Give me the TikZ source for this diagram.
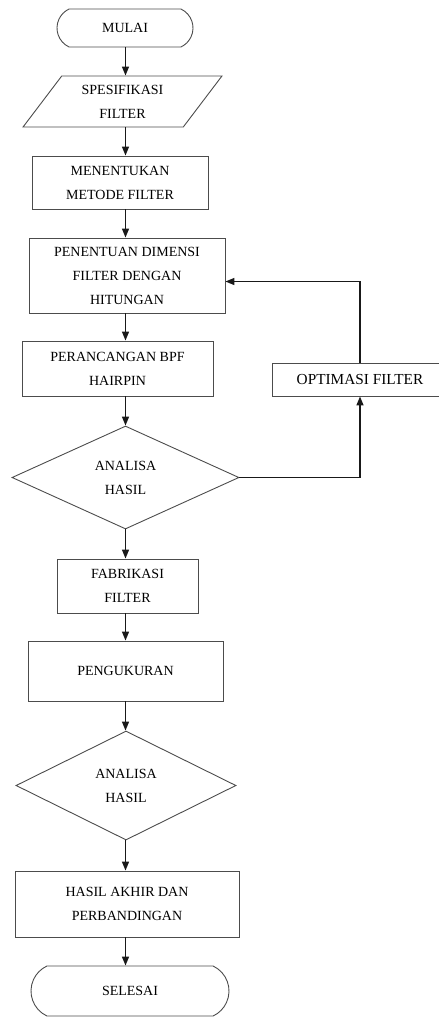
\documentclass[tikz,border=0pt]{standalone}
\usepackage{fontspec}
\setmainfont{Liberation Serif}
\usetikzlibrary{arrows.meta, positioning, shapes.geometric, shapes.misc}

\begin{document}
\begin{tikzpicture}[x=1pt,y=-1pt,on grid,>={Triangle[length=9pt,width=7pt]}]
    \tikzstyle{base}=[draw=black!70, line width=0.9pt, text=black, align=center, inner sep=0pt, font=\fontsize{14}{24}\selectfont]
    \tikzstyle{terminal}=[base, rounded rectangle, rounded rectangle arc length=130]
    \tikzstyle{io}=[base, trapezium, trapezium left angle=52, trapezium right angle=128, trapezium stretches=true]
    \tikzstyle{process}=[base, rectangle]
    \tikzstyle{decision}=[base, diamond, aspect=2.2]
    \tikzstyle{flow}=[->, line width=1.4pt, black!90]

    \useasboundingbox (0,0) rectangle (439,1018);
    \coordinate (spine) at (125.5,0);

    \node[terminal, minimum width=136pt, minimum height=38pt] (mulai) at (125,28) {MULAI};
    \node[io, minimum width=199pt, minimum height=51pt, below=73.5pt of mulai, xshift=-2.5pt] (spek) {SPESIFIKASI\\FILTER};
    \node[process, minimum width=176pt, minimum height=53pt, below=81pt of spek, xshift=-2.5pt] (metode) {MENENTUKAN\\METODE FILTER};
    \node[process, minimum width=196pt, minimum height=75pt, below=93pt of metode, xshift=7pt] (dimensi) {PENENTUAN DIMENSI\\FILTER DENGAN\\HITUNGAN};
    \node[process, minimum width=191pt, minimum height=55pt, below=93pt of dimensi, xshift=-9.5pt] (rancang) {PERANCANGAN BPF\\HAIRPIN};
    \node[decision, minimum width=227pt, minimum height=103pt, below=109pt of rancang, xshift=8pt] (analisa1) {ANALISA\\HASIL};
    \node[process, minimum width=141pt, minimum height=54pt, below=108.5pt of analisa1, xshift=2pt] (fabrikasi) {FABRIKASI\\FILTER};
    \node[process, minimum width=195pt, minimum height=60pt, below=85pt of fabrikasi, xshift=-2pt] (ukur) {PENGUKURAN};
    \node[decision, minimum width=220pt, minimum height=109pt, below=114.5pt of ukur, xshift=0.5pt] (analisa2) {ANALISA\\HASIL};
    \node[process, minimum width=224pt, minimum height=66pt, below=118.5pt of analisa2, xshift=1pt] (akhir) {HASIL AKHIR DAN\\PERBANDINGAN};
    \node[terminal, minimum width=198pt, minimum height=50pt, below=87pt of akhir, xshift=3pt] (selesai) {SELESAI};

    \node[process, minimum width=176pt, minimum height=33pt, font=\fontsize{15.3}{24}\selectfont, right=242.5pt of rancang, yshift=-11pt] (optimasi) {OPTIMASI FILTER};

    \path[flow]
    (mulai.south -| spine) edge (spek.north -| spine)
    (spek.south -| spine) edge (metode.north -| spine)
    (metode.south -| spine) edge (dimensi.north -| spine)
    (dimensi.south -| spine) edge (rancang.north -| spine)
    (rancang.south -| spine) edge (analisa1.north -| spine)
    (analisa1.south -| spine) edge (fabrikasi.north -| spine)
    (fabrikasi.south -| spine) edge (ukur.north -| spine)
    (ukur.south -| spine) edge (analisa2.north -| spine)
    (analisa2.south -| spine) edge (akhir.north -| spine)
    (akhir.south -| spine) edge (selesai.north -| spine)
    ;

    \draw[flow] (analisa1.east) -| (optimasi.south);
    \draw[flow] (optimasi.north) |- ([yshift=-6pt]dimensi.east);
  \end{tikzpicture}
\end{document}
